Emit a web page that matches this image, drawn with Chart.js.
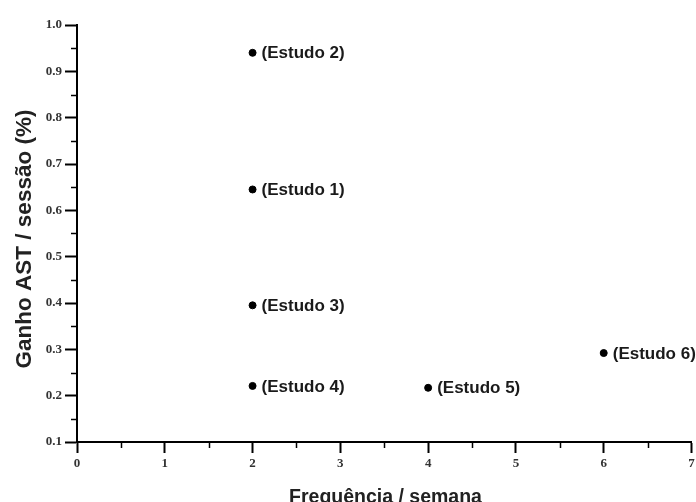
<!DOCTYPE html>
<html>
<head>
<meta charset="utf-8">
<script src="https://cdn.jsdelivr.net/npm/chart.js@4/dist/chart.umd.min.js"></script>
<style>
  html, body { margin: 0; padding: 0; background: #fff; }
  #wrap { width: 696px; height: 502px; position: relative; }
</style>
</head>
<body>
<div id="wrap"><canvas id="c" width="696" height="502"></canvas></div>
<script>
// ---- data ----
const studyLabels = ['(Estudo 1)', '(Estudo 2)', '(Estudo 3)', '(Estudo 4)', '(Estudo 5)', '(Estudo 6)'];
const frequency   = [2, 2, 2, 2, 4, 6];          // Frequência / semana
const gainPerSession = [0.645, 0.94, 0.395, 0.221, 0.217, 0.292]; // Ganho AST / sessão (%)
const xTicks = [0, 1, 2, 3, 4, 5, 6, 7];
const yTicks = [0.1, 0.2, 0.3, 0.4, 0.5, 0.6, 0.7, 0.8, 0.9, 1.0];
const xMinorTicks = [0.5, 1.5, 2.5, 3.5, 4.5, 5.5, 6.5];
const yMinorTicks = [0.15, 0.25, 0.35, 0.45, 0.55, 0.65, 0.75, 0.85, 0.95];
const xTitle = 'Frequência / semana';
const yTitle = 'Ganho AST / sessão (%)';

const points = frequency.map((f, i) => ({ x: f, y: gainPerSession[i], label: studyLabels[i] }));

const decorPlugin = {
  id: 'decor',
  afterDraw(chart) {
    const ctx = chart.ctx;
    const xs = chart.scales.x, ys = chart.scales.y;
    const area = chart.chartArea;
    ctx.save();
    // minor ticks
    ctx.strokeStyle = '#000';
    ctx.lineWidth = 1.5;
    xMinorTicks.forEach(v => {
      const px = Math.round(xs.getPixelForValue(v)) + 0.5;
      ctx.beginPath();
      ctx.moveTo(px, area.bottom);
      ctx.lineTo(px, area.bottom + 6);
      ctx.stroke();
    });
    yMinorTicks.forEach(v => {
      const py = Math.round(ys.getPixelForValue(v)) + 0.5;
      ctx.beginPath();
      ctx.moveTo(area.left - 6, py);
      ctx.lineTo(area.left, py);
      ctx.stroke();
    });
    // point labels
    ctx.fillStyle = '#1a1a1a';
    ctx.font = 'bold 17px "Liberation Sans", Arial, sans-serif';
    ctx.textAlign = 'left';
    ctx.textBaseline = 'middle';
    points.forEach(p => {
      ctx.fillText(p.label, xs.getPixelForValue(p.x) + 9, ys.getPixelForValue(p.y) + 1);
    });
    // axis titles
    ctx.fillStyle = '#222';
    ctx.font = 'bold 19.5px "Liberation Sans", Arial, sans-serif';
    ctx.textAlign = 'center';
    ctx.textBaseline = 'alphabetic';
    ctx.fillText(xTitle, 385.5, 503);
    ctx.save();
    ctx.translate(31, 239);
    ctx.rotate(-Math.PI / 2);
    ctx.font = 'bold 22.5px "Liberation Sans", Arial, sans-serif';
    ctx.fillText(yTitle, 0, 0);
    ctx.restore();
    ctx.restore();
  }
};

new Chart(document.getElementById('c'), {
  type: 'scatter',
  data: {
    datasets: [{
      data: points,
      backgroundColor: '#000',
      borderColor: '#000',
      pointRadius: 3.5,
      pointHoverRadius: 3.5,
      clip: false
    }]
  },
  options: {
    responsive: false,
    animation: false,
    devicePixelRatio: 1,
    layout: { padding: { top: 25, right: 3, left: 0, bottom: 0 } },
    plugins: { legend: { display: false }, tooltip: { enabled: false } },
    scales: {
      x: {
        type: 'linear',
        min: 0, max: 7,
        afterBuildTicks: s => { s.ticks = xTicks.map(v => ({ value: v })); },
        afterFit: s => { s.height = 60; s.paddingRight = 0; s.paddingLeft = 0; },
        ticks: {
          color: '#333',
          padding: 3,
          maxRotation: 0,
          font: { family: '"Liberation Serif", "Times New Roman", serif', size: 13, weight: 'bold' },
          callback: v => String(v)
        },
        grid: { drawOnChartArea: false, drawTicks: true, tickLength: 11, tickColor: '#000', tickWidth: 2 },
        border: { display: true, color: '#000', width: 2 }
      },
      y: {
        type: 'linear',
        min: 0.1, max: 1.0,
        afterBuildTicks: s => { s.ticks = yTicks.map(v => ({ value: v })); },
        afterFit: s => { s.width = 77; s.paddingTop = 0; s.paddingBottom = 0; },
        ticks: {
          color: '#333',
          padding: 3,
          font: { family: '"Liberation Serif", "Times New Roman", serif', size: 13, weight: 'bold' },
          callback: v => Number(v).toFixed(1)
        },
        grid: { drawOnChartArea: false, drawTicks: true, tickLength: 12, tickColor: '#000', tickWidth: 2 },
        border: { display: true, color: '#000', width: 2 }
      }
    }
  },
  plugins: [decorPlugin]
});
</script>
</body>
</html>
